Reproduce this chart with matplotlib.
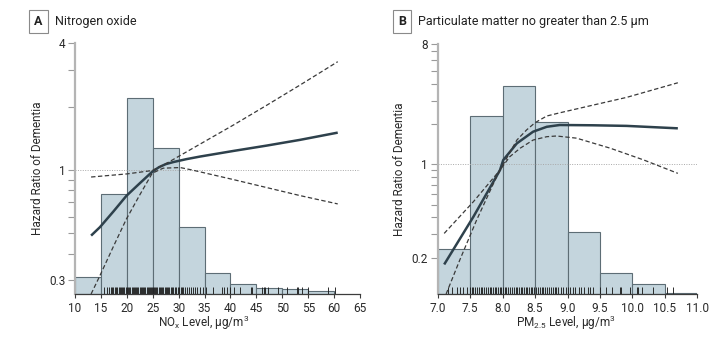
import matplotlib
matplotlib.use('Agg')
import matplotlib.pyplot as plt
from matplotlib import font_manager

# Narrow sans if installed, otherwise a regular one
nomes = {f.name for f in font_manager.fontManager.ttflist}
fonte = 'Liberation Sans Narrow' if 'Liberation Sans Narrow' in nomes else 'Roboto'
plt.rcParams['font.family'] = [fonte, 'DejaVu Sans']
plt.rcParams['mathtext.fontset'] = 'custom'
plt.rcParams['mathtext.rm'] = fonte
plt.rcParams['mathtext.it'] = fonte

# --- Painel A: NOx ---
nox_bins = [10, 15, 20, 25, 30, 35, 40, 45, 50, 55, 60]
nox_freq = [2.9, 17.6, 34.4, 25.6, 11.7, 3.6, 1.7, 1.1, 0.9, 0.5]  # % dos participantes

nox_x = [13.1, 14.8, 17.4, 19.9, 22.5, 24.9, 26.2, 27.5, 29.0, 31.5, 34.1, 40.6, 47.0, 53.4, 60.7]
nox_hr = [0.487, 0.534, 0.634, 0.752, 0.864, 0.98, 1.03, 1.065, 1.09, 1.125, 1.157, 1.231,
          1.305, 1.389, 1.504]

nox_sup_x = [13.1, 20.0, 24.9, 27.7, 34.1, 40.6, 47.0, 53.4, 60.7]
nox_sup_hr = [0.925, 0.957, 0.993, 1.076, 1.325, 1.636, 2.03, 2.53, 3.27]

nox_inf_x = [13.1, 14.8, 17.4, 19.9, 22.5, 24.9, 27.0, 30.3, 32.5, 40.6, 47.0, 53.4, 60.7]
nox_inf_hr = [0.257, 0.314, 0.432, 0.583, 0.761, 0.964, 1.019, 1.026, 1.0, 0.899, 0.824, 0.755, 0.689]

nox_rug = [15.5, 16.1, 16.5, 16.9, 17.2, 17.4, 17.7, 17.9, 18.1, 18.4, 18.6, 18.8, 19.1,
           19.3, 19.5, 19.8, 20.0, 20.2, 20.5, 20.7, 20.9, 21.1, 21.4, 21.6, 21.8, 22.0,
           22.2, 22.5, 22.7, 22.9, 23.1, 23.3, 23.6, 23.8, 24.0, 24.2, 24.4, 24.6, 24.9,
           25.1, 25.3, 25.5, 25.7, 25.9, 26.2, 26.4, 26.6, 26.8, 27.0, 27.3, 27.5, 27.7,
           28.0, 28.2, 28.5, 28.7, 29.0, 29.2, 29.5, 29.8, 30.1, 30.4, 30.6, 30.9, 31.3,
           31.6, 32.0, 32.3, 32.7, 33.2, 33.6, 34.1, 34.7, 35.3, 36.7, 38.3, 38.8, 39.3,
           39.9, 40.6, 41.9, 43.9, 44.1, 46.0, 46.4, 46.7, 47.3, 49.2, 51.0, 52.8, 53.1,
           53.8, 55.0, 58.9, 60.2]

nox_xticks = [10, 15, 20, 25, 30, 35, 40, 45, 50, 55, 60, 65]
nox_yticks = [0.3, 0.4, 0.5, 0.6, 0.7, 0.8, 0.9, 1, 2, 3, 4]
nox_ylabels = ['0.3', '', '', '', '', '', '', '1', '', '', '4']

# --- Painel B: PM2.5 ---
pm_bins = [7.0, 7.5, 8.0, 8.5, 9.0, 9.5, 10.0, 10.5, 11.0]
pm_freq = [6.4, 25.5, 29.9, 24.6, 8.9, 3.0, 1.4, 0.2]

pm_x = [7.10, 7.55, 7.96, 8.01, 8.22, 8.47, 8.68, 8.88, 9.40, 9.91, 10.70]
pm_hr = [0.178, 0.405, 0.906, 1.077, 1.436, 1.755, 1.91, 1.97, 1.96, 1.94, 1.86]

pm_sup_x = [7.10, 7.55, 7.96, 8.22, 8.37, 8.50, 8.68, 8.88, 9.40, 9.91, 10.70]
pm_sup_hr = [0.304, 0.525, 0.906, 1.52, 1.81, 2.05, 2.30, 2.43, 2.78, 3.17, 4.08]

pm_inf_x = [7.13, 7.34, 7.60, 7.86, 7.96, 8.11, 8.27, 8.47, 8.68, 8.83, 9.14, 9.66, 10.17, 10.70]
pm_inf_hr = [0.107, 0.192, 0.383, 0.72, 0.906, 1.14, 1.32, 1.52, 1.61, 1.63, 1.57, 1.32, 1.08, 0.856]

pm_rug = [7.16, 7.22, 7.29, 7.34, 7.39, 7.45, 7.50, 7.53, 7.55, 7.58, 7.61, 7.63, 7.66,
          7.69, 7.72, 7.74, 7.77, 7.80, 7.82, 7.85, 7.88, 7.90, 7.93, 7.96, 7.98, 8.01,
          8.04, 8.06, 8.09, 8.12, 8.14, 8.17, 8.20, 8.22, 8.25, 8.28, 8.30, 8.33, 8.36,
          8.38, 8.41, 8.44, 8.46, 8.49, 8.52, 8.54, 8.57, 8.60, 8.62, 8.65, 8.68, 8.71,
          8.74, 8.77, 8.80, 8.83, 8.86, 8.90, 8.93, 8.97, 9.00, 9.04, 9.08, 9.12, 9.17,
          9.21, 9.26, 9.31, 9.35, 9.40, 9.50, 9.60, 9.68, 9.81, 9.83, 9.96, 10.07, 10.09,
          10.14, 10.32, 10.53, 10.63]

pm_xticks = [7.0, 7.5, 8.0, 8.5, 9.0, 9.5, 10.0, 10.5, 11.0]
pm_yticks = [0.2, 0.3, 0.4, 0.5, 0.6, 0.7, 0.8, 0.9, 1, 2, 3, 4, 5, 6, 7, 8]
pm_ylabels = ['0.2', '', '', '', '', '', '', '', '1', '', '', '', '', '', '', '8']

# Cores
cor_barra = '#c4d5dd'
cor_borda = '#5d6d75'
cor_curva = '#2e414c'
cor_tracejado = '#3a3a3a'
cor_texto = '#2a2a2a'


def painel(rect, bins, freq, hist_top, rug, x, hr, sx, shr, ix, ihr,
           xlim, ylim, xticks, xfmt, yticks, ylabels, xlabel, xlab_pos, ylab_x):
    # eixo do histograma (linear) por baixo
    ax_h = fig.add_axes(rect)
    largura = bins[1] - bins[0]
    ax_h.bar(bins[:-1], freq, width=largura, align='edge', color=cor_barra,
             edgecolor=cor_borda, linewidth=0.8)
    ax_h.vlines(rug, 0, 0.028, transform=ax_h.get_xaxis_transform(),
                color='#1e1e1e', linewidth=0.65)
    ax_h.set_xlim(xlim)
    ax_h.set_ylim(0, hist_top)
    ax_h.axis('off')

    # eixo das curvas (log) por cima
    ax = fig.add_axes(rect)
    ax.set_facecolor('none')
    ax.set_yscale('log')
    ax.axhline(1, color='#a8a8a8', linestyle=(0, (1, 1.5)), linewidth=0.7)
    ax.plot(x, hr, color=cor_curva, linewidth=1.8, solid_capstyle='butt',
            solid_joinstyle='round')
    ax.plot(sx, shr, color=cor_tracejado, linewidth=0.9, linestyle=(0, (3.5, 2)))
    ax.plot(ix, ihr, color=cor_tracejado, linewidth=0.9, linestyle=(0, (3.5, 2)))
    ax.set_xlim(xlim)
    ax.set_ylim(ylim)

    ax.set_xticks(xticks)
    ax.set_xticklabels([xfmt.format(v) for v in xticks])
    ax.set_yticks(yticks)
    ax.set_yticklabels(ylabels)
    ax.yaxis.set_minor_locator(plt.NullLocator())

    for lado in ['top', 'right']:
        ax.spines[lado].set_visible(False)
    ax.spines['left'].set_color('#b4b4b4')
    ax.spines['left'].set_linewidth(1.6)
    ax.spines['bottom'].set_color('#3c3c3c')
    ax.spines['bottom'].set_linewidth(0.9)
    ax.tick_params(axis='y', length=5, width=0.8, color='#9a9a9a', pad=2,
                   labelsize=8.5, labelcolor=cor_texto)
    ax.tick_params(axis='x', length=3, width=0.8, color='#3c3c3c', pad=2.5,
                   labelsize=8.5, labelcolor=cor_texto)

    ax.set_xlabel(xlabel, fontsize=8.5, color=cor_texto)
    ax.xaxis.set_label_coords(xlab_pos, -0.115)
    ax.xaxis.label.set_va('center')
    ax.set_ylabel('Hazard Ratio of Dementia', fontsize=8.5, color=cor_texto)
    ax.yaxis.set_label_coords(ylab_x, 0.5)
    ax.yaxis.label.set_va('center')
    return ax


fig = plt.figure(figsize=(7.18, 3.43), dpi=100)

painel([0.1045, 0.1429, 0.3969, 0.7309], nox_bins, nox_freq, 44.0, nox_rug,
       nox_x, nox_hr, nox_sup_x, nox_sup_hr, nox_inf_x, nox_inf_hr,
       (10, 65), (0.257, 4), nox_xticks, '{:g}', nox_yticks, nox_ylabels,
       r'NO$_\mathrm{x}$ Level, μg/m$^\mathrm{3}$', 0.4526, -0.1316)

painel([0.6096, 0.1429, 0.3616, 0.7297], pm_bins, pm_freq, 35.9, pm_rug,
       pm_x, pm_hr, pm_sup_x, pm_sup_hr, pm_inf_x, pm_inf_hr,
       (7.0, 11.0), (0.107, 8), pm_xticks, '{:.1f}', pm_yticks, pm_ylabels,
       r'PM$_\mathrm{2.5}$ Level, μg/m$^\mathrm{3}$', 0.495, -0.149)

# Titulos dos paineis com a letra em caixa
caixa = dict(boxstyle='square,pad=0.4', facecolor='white', edgecolor='#8a8a8a', linewidth=0.8)
fig.text(0.0536, 0.9359, 'A', fontsize=9, fontweight='bold', ha='center', va='center',
         color='#222222', bbox=caixa)
fig.text(0.0763, 0.9359, 'Nitrogen oxide', fontsize=9, ha='left', va='center', color='#222222')
fig.text(0.5599, 0.9359, 'B', fontsize=9, fontweight='bold', ha='center', va='center',
         color='#222222', bbox=caixa)
fig.text(0.5819, 0.9359, 'Particulate matter no greater than 2.5 μm', fontsize=9,
         ha='left', va='center', color='#222222')

plt.savefig('out.png', dpi=100)
